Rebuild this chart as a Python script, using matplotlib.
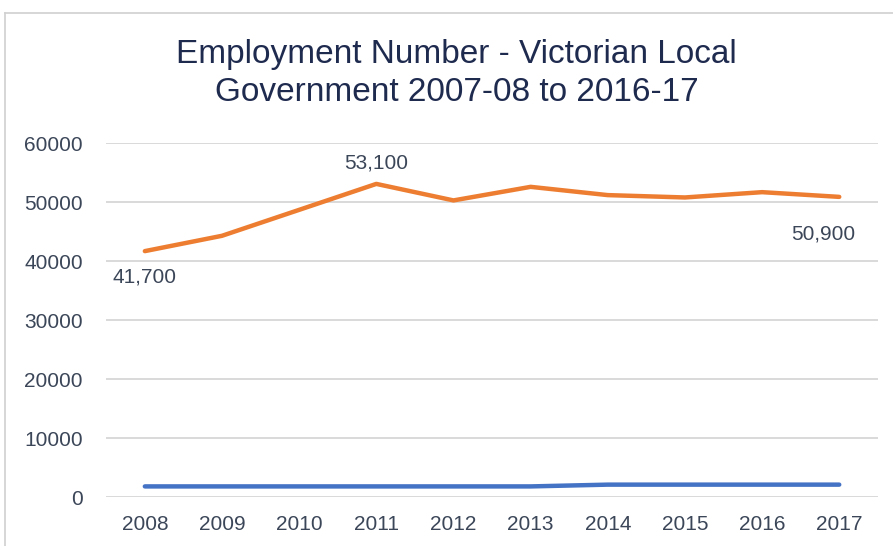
import matplotlib
matplotlib.use("Agg")
import matplotlib.pyplot as plt
from matplotlib.lines import Line2D

years = ["2008", "2009", "2010", "2011", "2012", "2013", "2014", "2015", "2016", "2017"]
employment = [41700, 44300, 48700, 53100, 50300, 52600, 51200, 50800, 51700, 50900]
other = [1800, 1800, 1800, 1800, 1800, 1800, 2100, 2100, 2100, 2100]
yticks = [0, 10000, 20000, 30000, 40000, 50000, 60000]
labelled = {0: (0, -26), 3: (0, 21), 9: (-16, -37)}

plt.rcParams["font.family"] = ["Liberation Sans", "DejaVu Sans"]

fig = plt.figure(figsize=(8.93, 5.46), dpi=100)
ax = fig.add_axes([0.119, 0.0897, 0.864, 0.648])

x = list(range(len(years)))
ax.plot(x, other, color="#4472C4", lw=3.2, solid_capstyle="round", zorder=3)
ax.plot(x, employment, color="#ED7D31", lw=3.2, solid_capstyle="round", zorder=3)

for i, (dx, dy) in labelled.items():
    ax.annotate(f"{employment[i]:,}", (x[i], employment[i]), xytext=(dx, dy),
                textcoords="offset pixels", ha="center", va="center",
                fontsize=15, color="#3b4658")

ax.set_xlim(-0.5, len(years) - 0.5)
ax.set_ylim(0, 60000)
ax.set_xticks(x)
ax.set_xticklabels(years)
ax.set_yticks(yticks)
ax.set_yticklabels([str(v) for v in yticks])
ax.tick_params(axis="both", length=0, labelsize=15, labelcolor="#3b4658")
ax.tick_params(axis="x", pad=13)
ax.tick_params(axis="y", pad=17)
ax.grid(axis="y", color="#d9d9d9", lw=1.4)
ax.set_axisbelow(True)
for s in ax.spines.values():
    s.set_visible(False)

fig.text(0.511, 0.866, "Employment Number - Victorian Local\nGovernment 2007-08 to 2016-17",
         ha="center", va="center", fontsize=24, color="#1f2a4f", linespacing=1.3)

# chart frame edges
fig.add_artist(Line2D([0.0056, 0.0056], [0, 0.976], color="#d0d0d0", lw=1.2))
fig.add_artist(Line2D([0.0056, 1.0], [0.976, 0.976], color="#d0d0d0", lw=1.2))

fig.savefig("out.png", dpi=100)
